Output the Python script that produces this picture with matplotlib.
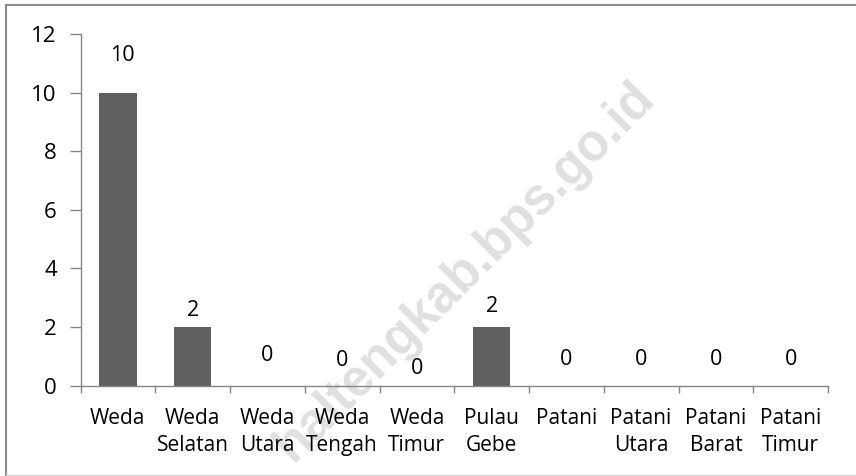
import matplotlib
matplotlib.use("Agg")
import matplotlib.pyplot as plt
from matplotlib.lines import Line2D
import numpy as np

categories = ["Weda", "Weda\nSelatan", "Weda\nUtara", "Weda\nTengah", "Weda\nTimur",
              "Pulau\nGebe", "Patani", "Patani\nUtara", "Patani\nBarat", "Patani\nTimur"]
values = [10, 2, 0, 0, 0, 2, 0, 0, 0, 0]
yticks = [0, 2, 4, 6, 8, 10, 12]
# label vertical offsets (pixels above bar top), as placed in the original
label_dy = [37, 16, 30, 25, 17, 20, 26, 26, 26, 26]
label_dx = [4, 0, 0, 0, 0, 0, 0, 0, 0, 0]

plt.rcParams['font.family'] = ['Open Sans', 'DejaVu Sans']

fig = plt.figure(figsize=(8.56, 4.76), dpi=100)
W, H = 856, 476
ax = fig.add_axes([80.5 / W, 1 - 385.5 / H, (828 - 80.5) / W, (385.5 - 34) / H])
ax.patch.set_alpha(0)

x = np.arange(len(values))
ax.bar(x, values, width=0.5, color="#606060", zorder=2)

for xi, v, dy, dx in zip(x, values, label_dy, label_dx):
    ax.annotate(str(v), (xi, v), xytext=(dx, dy), textcoords="offset pixels",
                ha="center", va="center", fontsize=15.5, color="black")

ax.set_xlim(-0.5, len(values) - 0.5)
ax.set_ylim(0, 12)
ax.set_yticks(yticks)
ax.set_yticklabels([str(t) for t in yticks], fontsize=16)
ax.set_xticks(x)
ax.set_xticklabels(categories, fontsize=15, linespacing=1.42)
ax.set_xticks(np.arange(-0.5, len(values)), minor=True)
ax.tick_params(axis="x", which="major", length=0, pad=16)
ax.tick_params(axis="x", which="minor", length=5, color="#868686", width=1)
ax.tick_params(axis="y", length=8, color="#868686", width=1, pad=9)

for s in ["top", "right"]:
    ax.spines[s].set_visible(False)
for s in ["left", "bottom"]:
    ax.spines[s].set_color("#868686")
    ax.spines[s].set_linewidth(1)

# watermark (behind the chart)
fig.text(465 / W, 1 - 272 / H, "haltengkab.bps.go.id", rotation=45, fontsize=37,
         fontweight="bold", color="#e0e0e0", ha="center", va="center",
         family="Liberation Sans", zorder=-1)

# frame around chart (cut off on the right)
fig.add_artist(Line2D([6 / W, 6 / W], [1 - 4.5 / H, 1 - 475 / H], color="#8c8c8c", lw=1.5,
                      transform=fig.transFigure))
fig.add_artist(Line2D([6 / W, 1.0], [1 - 4.5 / H, 1 - 4.5 / H], color="#8c8c8c", lw=1.5,
                      transform=fig.transFigure))
fig.add_artist(Line2D([6 / W, 1.0], [1 - 475 / H, 1 - 475 / H], color="#d0d0d0", lw=1,
                      transform=fig.transFigure))

fig.savefig("out.png", dpi=100)
